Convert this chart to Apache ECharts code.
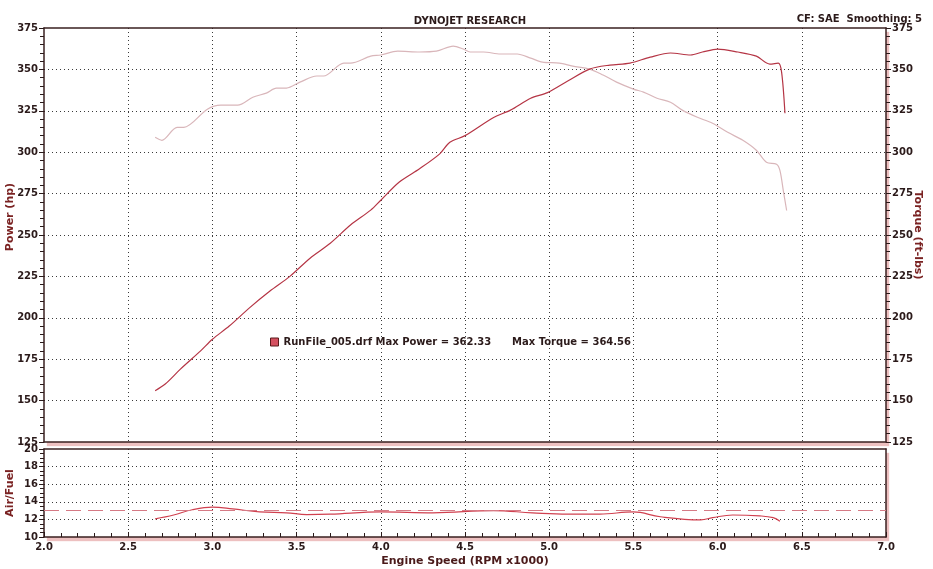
<!DOCTYPE html>
<html>
<head>
<meta charset="utf-8">
<title>Dynojet Research</title>
<script src="https://cdn.jsdelivr.net/npm/echarts@6/dist/echarts.min.js"></script>
<style>
  html, body { margin: 0; padding: 0; background: #fff; }
  #chart { width: 933px; height: 569px; }
</style>
</head>
<body>
<div id="chart"></div>
<script>
// engine speed (rpm x1000) and power (hp)
const powerRpm = [2.66, 2.72, 2.81, 2.93, 3.00, 3.10, 3.22, 3.34, 3.46, 3.58, 3.70, 3.82, 3.94, 4.00, 4.11, 4.23, 4.35, 4.41, 4.50, 4.67, 4.77, 4.89, 4.99, 5.11, 5.24, 5.36, 5.48, 5.60, 5.72, 5.84, 5.91, 6.00, 6.12, 6.23, 6.31, 6.36, 6.38, 6.40]
const powerHp = [156, 160, 169, 180, 187, 195, 206, 216, 225, 236, 245, 256, 265, 271, 282, 290, 299, 306, 310, 321, 325.4, 332.6, 336, 343, 350.2, 352.6, 353.8, 357.4, 359.9, 358.7, 360.5, 362.3, 360.5, 358, 353.2, 353.8, 348.4, 323.5]

// torque (ft-lbs)
const torqueRpm = [2.66, 2.70, 2.79, 2.83, 2.97, 3.05, 3.15, 3.24, 3.32, 3.38, 3.44, 3.52, 3.62, 3.66, 3.78, 3.82, 3.94, 4.00, 4.10, 4.23, 4.33, 4.43, 4.49, 4.53, 4.61, 4.71, 4.81, 4.89, 4.96, 5.06, 5.14, 5.24, 5.32, 5.40, 5.50, 5.56, 5.64, 5.72, 5.79, 5.88, 5.97, 6.06, 6.15, 6.23, 6.29, 6.35, 6.37, 6.39, 6.41]
const torqueFtLbs = [309, 307.2, 315, 315, 326, 328.4, 328.4, 333.2, 335.7, 338.7, 338.7, 342.3, 346, 346, 353.8, 353.8, 358, 358.7, 361, 360.5, 361, 364.1, 362.3, 360.5, 360.5, 359.3, 359.3, 356.8, 354.4, 353.8, 352, 350.2, 346.6, 342.3, 338.1, 336.3, 332.6, 330.2, 325.4, 321.1, 317.5, 312, 307.2, 301.2, 293.9, 292.7, 289, 277, 264.8]

// air/fuel ratio
const afrRpm = [2.66, 2.77, 2.88, 3.00, 3.12, 3.28, 3.44, 3.56, 3.70, 4.00, 4.31, 4.67, 4.90, 5.11, 5.30, 5.50, 5.66, 5.90, 5.97, 6.09, 6.25, 6.33, 6.37]
const afrValues = [12.06, 12.5, 13.1, 13.4, 13.2, 12.85, 12.75, 12.55, 12.6, 12.85, 12.75, 13.0, 12.75, 12.6, 12.6, 12.85, 12.3, 11.95, 12.2, 12.5, 12.4, 12.2, 11.8]
const afrTarget = 13

const runFile = 'RunFile_005.drf'
const maxPower = 362.33
const maxTorque = 364.56

const font = 'DejaVu Sans'
const dark = '#2b1a1a'
const maroon = '#7a2222'

const pairs = (xs, ys) => xs.map((x, i) => [x, ys[i]])

const chart = echarts.init(document.getElementById('chart'))

// 点线网格
const dotted = { color: '#3a3a3a', width: 1, type: [1, 3] }
const frameLine = { show: true, lineStyle: { color: '#3a2020', width: 1.5 } }

const xBase = {
  type: 'value',
  min: 2,
  max: 7,
  interval: 0.5,
  axisLine: frameLine,
  splitLine: { show: true, lineStyle: dotted, showMinLine: false, showMaxLine: false }
}

// 只画边框的轴
const frameX = (gridIndex) => ({
  type: 'value', gridIndex, position: 'top', min: 2, max: 7,
  axisLine: frameLine, axisTick: { show: false }, axisLabel: { show: false }, splitLine: { show: false }
})

const gridBox = {
  show: true, borderWidth: 0, backgroundColor: '#fff',
  shadowColor: 'rgba(225, 150, 150, 0.6)', shadowBlur: 1, shadowOffsetX: 3, shadowOffsetY: 4
}

const option = {
  animation: false,
  textStyle: { fontFamily: font },
  title: [
    {
      text: 'DYNOJET RESEARCH',
      left: 465, top: 11, textAlign: 'center',
      textStyle: { fontFamily: font, fontSize: 10, fontWeight: 'bold', color: dark }
    },
    {
      text: 'CF: SAE  Smoothing: 5',
      right: 6, top: 9,
      textStyle: { fontFamily: font, fontSize: 10, fontWeight: 'bold', color: dark }
    }
  ],
  legend: {
    data: [runFile],
    left: 265, top: 332,
    icon: 'rect', itemWidth: 8, itemHeight: 8, itemGap: 4,
    formatter: name => name + ' Max Power = ' + maxPower + '      Max Torque = ' + maxTorque,
    textStyle: { fontFamily: font, fontSize: 10, fontWeight: 'bold', color: dark },
    itemStyle: { color: '#d45060', borderColor: '#5a1a1a', borderWidth: 1 }
  },
  grid: [
    Object.assign({ left: 44, right: 47, top: 28, height: 414 }, gridBox),
    Object.assign({ left: 44, right: 47, top: 449, height: 88 }, gridBox)
  ],
  xAxis: [
    Object.assign({}, xBase, {
      gridIndex: 0,
      axisTick: { show: false },
      axisLabel: { show: false }
    }),
    Object.assign({}, xBase, {
      gridIndex: 1,
      axisTick: { show: true, inside: true, length: 5, lineStyle: { color: dark } },
      minorTick: { show: true, splitNumber: 5, length: 4, lineStyle: { color: dark } },
      axisLabel: {
        margin: 5, fontSize: 10, fontWeight: 'bold', color: dark, fontFamily: font,
        formatter: v => v.toFixed(1)
      }
    }),
    frameX(0),
    frameX(1)
  ],
  yAxis: [
    {
      type: 'value', gridIndex: 0, position: 'left',
      min: 125, max: 375, interval: 25,
      axisLine: frameLine,
      axisTick: { show: true, length: 5, lineStyle: { color: dark } },
      minorTick: { show: true, splitNumber: 5, length: 4, lineStyle: { color: dark } },
      axisLabel: { margin: 6, fontSize: 10, fontWeight: 'bold', color: dark, fontFamily: font },
      splitLine: { show: true, lineStyle: dotted, showMinLine: false, showMaxLine: false }
    },
    {
      type: 'value', gridIndex: 0, position: 'right',
      min: 125, max: 375, interval: 25,
      axisLine: frameLine,
      axisTick: { show: true, length: 5, lineStyle: { color: dark } },
      minorTick: { show: true, splitNumber: 5, length: 4, lineStyle: { color: dark } },
      axisLabel: { margin: 6, fontSize: 10, fontWeight: 'bold', color: dark, fontFamily: font },
      splitLine: { show: false }
    },
    {
      type: 'value', gridIndex: 1, position: 'left',
      min: 10, max: 20, interval: 2,
      axisLine: frameLine,
      axisTick: { show: true, length: 5, lineStyle: { color: dark } },
      minorTick: { show: true, splitNumber: 4, length: 4, lineStyle: { color: dark } },
      axisLabel: { margin: 6, fontSize: 10, fontWeight: 'bold', color: dark, fontFamily: font },
      splitLine: { show: true, lineStyle: dotted, showMinLine: false, showMaxLine: false }
    },
    {
      type: 'value', gridIndex: 1, position: 'right', min: 10, max: 20,
      axisLine: frameLine, axisTick: { show: false }, axisLabel: { show: false }, splitLine: { show: false }
    }
  ],
  graphic: [
    {
      type: 'text', x: 10, y: 217, rotation: Math.PI / 2,
      style: { text: 'Power (hp)', fill: maroon, font: 'bold 11px "DejaVu Sans"', align: 'center', verticalAlign: 'middle' }
    },
    {
      type: 'text', x: 918, y: 235, rotation: -Math.PI / 2,
      style: { text: 'Torque (ft-lbs)', fill: maroon, font: 'bold 11px "DejaVu Sans"', align: 'center', verticalAlign: 'middle' }
    },
    {
      type: 'text', x: 10, y: 493, rotation: Math.PI / 2,
      style: { text: 'Air/Fuel', fill: maroon, font: 'bold 11px "DejaVu Sans"', align: 'center', verticalAlign: 'middle' }
    },
    {
      type: 'text', x: 465, y: 561,
      style: { text: 'Engine Speed (RPM x1000)', fill: '#4a1a1a', font: 'bold 11px "DejaVu Sans"', align: 'center', verticalAlign: 'middle' }
    }
  ],
  series: [
    {
      name: runFile,
      type: 'line',
      xAxisIndex: 0, yAxisIndex: 0,
      smooth: 0.3, showSymbol: false,
      lineStyle: { color: '#b53545', width: 1.2 },
      itemStyle: { color: '#d45060' },
      data: pairs(powerRpm, powerHp),
      z: 3
    },
    {
      name: 'Torque',
      type: 'line',
      xAxisIndex: 0, yAxisIndex: 1,
      smooth: 0.3, showSymbol: false,
      lineStyle: { color: '#d9b6ba', width: 1.2 },
      data: pairs(torqueRpm, torqueFtLbs),
      z: 2
    },
    {
      name: 'Air/Fuel',
      type: 'line',
      xAxisIndex: 1, yAxisIndex: 2,
      smooth: 0.4, showSymbol: false,
      lineStyle: { color: '#d0404f', width: 1.2 },
      data: pairs(afrRpm, afrValues),
      markLine: {
        silent: true,
        symbol: 'none',
        label: { show: false },
        lineStyle: { color: '#d57a85', width: 1.2, type: [15, 7] },
        data: [{ yAxis: afrTarget }]
      }
    }
  ]
}

chart.setOption(option)
</script>
</body>
</html>
